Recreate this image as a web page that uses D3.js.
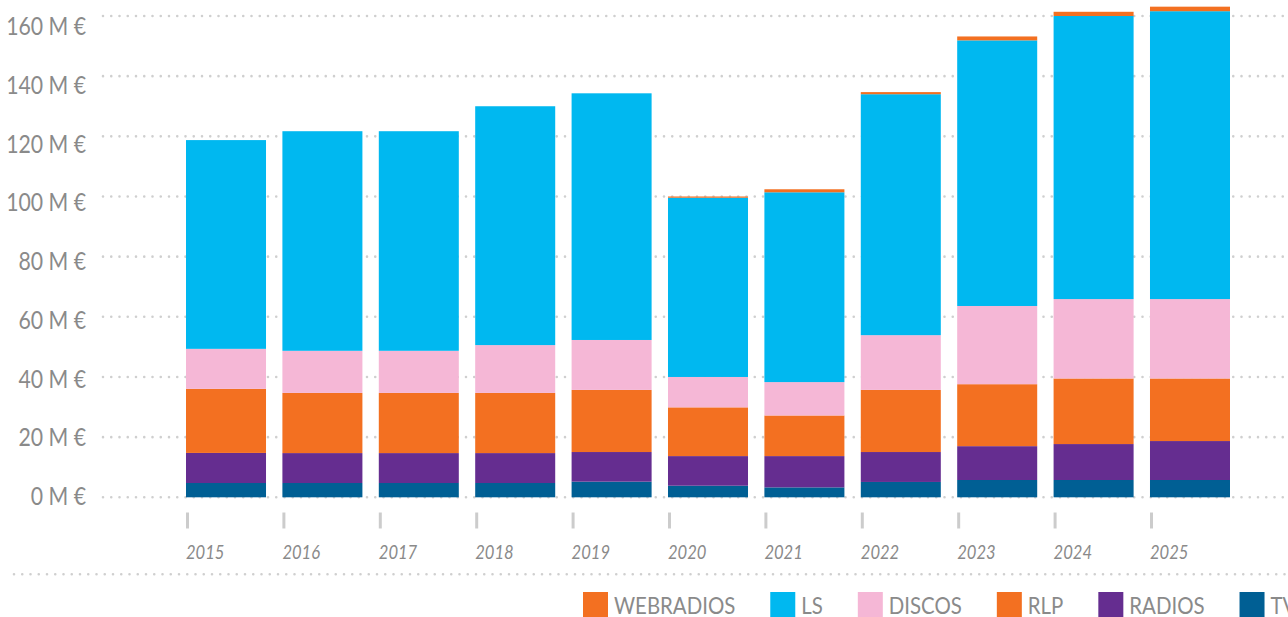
<!DOCTYPE html>
<html lang="en">
<head>
    <meta charset="UTF-8">
    <title>Stacked bars 2015-2025</title>
    <script src="https://d3js.org/d3.v7.min.js"></script>
    <style>
        body{
            margin: 0;
            background: #fff;
        }
        svg{
            display: block;
        }
        text{
            font-family: Lato, "Open Sans", sans-serif;
            fill: #8a8a8a;
        }
    </style>
</head>
<body>
<script>

    const width = 1288
    const height = 617
    // the original face is narrower than Lato, so text is squeezed a little
    const squeeze = 0.85

    // data, in M €
    const years = ["2015","2016","2017","2018","2019","2020","2021","2022","2023","2024","2025"]
    const tv        = [4.75, 4.75, 4.75, 4.75, 5.2, 3.85, 3.3, 5.1, 5.75, 5.75, 5.75]
    const radios    = [10.0, 9.95, 9.95, 9.95, 9.85, 9.85, 10.4, 9.95, 11.25, 11.95, 12.95]
    const rlp       = [21.3, 20.0, 20.0, 20.0, 20.65, 16.2, 13.5, 20.65, 20.6, 21.8, 20.8]
    const discos    = [13.3, 14.0, 14.0, 15.9, 16.6, 10.1, 11.1, 18.2, 26.0, 26.4, 26.4]
    const ls        = [69.4, 73.0, 73.0, 79.4, 82.0, 59.6, 63.1, 80.1, 88.3, 94.1, 95.7]
    const webradios = [0, 0, 0, 0, 0, 0.4, 1.0, 0.7, 1.3, 1.4, 1.5]
    const yTicks = [0, 20, 40, 60, 80, 100, 120, 140, 160]

    // stack order from bottom to top
    const seriesNames = ["TV","RADIOS","RLP","DISCOS","LS","WEBRADIOS"]
    const seriesValues = [tv, radios, rlp, discos, ls, webradios]
    const colors = {
        "TV": "#005f94",
        "RADIOS": "#652d90",
        "RLP": "#f37021",
        "DISCOS": "#f5b7d6",
        "LS": "#00b8f0",
        "WEBRADIOS": "#f37021"
    }
    // legend reads left to right from the top of the stack
    const legendNames = ["WEBRADIOS","LS","DISCOS","RLP","RADIOS","TV"]

    let table = years.map((y,i)=>{
        let row = {year: y}
        seriesNames.forEach((s,j)=> row[s] = seriesValues[j][i])
        return row
    })

    let svg = d3.select("body").append("svg")
                .attr("width", width)
                .attr("height", height)
                .attr("viewBox", `0 0 ${width} ${height}`);

    const x = d3.scaleBand().domain(years)
                .range([186, 1230])
                .paddingInner(0.17)
                .paddingOuter(0)

    const y = d3.scaleLinear().domain([0,160]).range([497.3, 16])
    // the value labels sit on a slightly tighter spacing than the grid
    const yLab = d3.scaleLinear().domain([0,160]).range([496, 26])

    function place(px, py){
        return `translate(${px},${py}) scale(${squeeze},1)`
    }

    // grid
    svg.append("g").selectAll("line")
        .data(yTicks)
        .enter()
        .append("line")
        .attr("x1", 103)
        .attr("x2", width + 5)
        .attr("y1", d=>y(d))
        .attr("y2", d=>y(d))
        .attr("stroke", "#cfcfcf")
        .attr("stroke-width", 2.6)
        .attr("stroke-linecap", "round")
        .attr("stroke-dasharray", "0 8.25")

    svg.append("g").selectAll("text")
        .data(yTicks)
        .enter()
        .append("text")
        .attr("transform", d=>place(86, yLab(d)))
        .attr("dy", "0.36em")
        .attr("text-anchor", "end")
        .style("font-size", "25px")
        .text(d=>`${d} M €`)

    // bars
    let stacked = d3.stack().keys(seriesNames)(table)

    svg.append("g").selectAll("g")
        .data(stacked)
        .enter()
        .append("g")
        .attr("fill", d=>colors[d.key])
        .selectAll("rect")
        .data(d=>d)
        .enter()
        .append("rect")
        .attr("x", d=>x(d.data.year))
        .attr("width", x.bandwidth())
        .attr("y", d=>y(d[1]))
        .attr("height", d=>Math.max(0, y(d[0]) - y(d[1])))

    // x axis: short ticks and italic years at the bar's left edge
    let gx = svg.append("g")
    gx.selectAll("line")
        .data(years)
        .enter()
        .append("line")
        .attr("x1", d=>x(d) + 1.5)
        .attr("x2", d=>x(d) + 1.5)
        .attr("y1", 512.5)
        .attr("y2", 528.5)
        .attr("stroke", "#cccccc")
        .attr("stroke-width", 3)
    gx.selectAll("text")
        .data(years)
        .enter()
        .append("text")
        .attr("transform", d=>place(x(d), 559))
        .style("font-size", "19.5px")
        .style("font-style", "italic")
        .text(d=>d)

    // separator above the legend
    svg.append("line")
        .attr("x1", 14)
        .attr("x2", width + 5)
        .attr("y1", 574.3)
        .attr("y2", 574.3)
        .attr("stroke", "#cfcfcf")
        .attr("stroke-width", 2.6)
        .attr("stroke-linecap", "round")
        .attr("stroke-dasharray", "0 8.25")

    // legend
    let gLegend = svg.append("g")
    let lx = 583
    legendNames.forEach(name=>{
        gLegend.append("rect")
            .attr("x", lx)
            .attr("y", 592)
            .attr("width", 25)
            .attr("height", 25)
            .attr("fill", colors[name])
        let t = gLegend.append("text")
            .attr("transform", place(lx + 31, 614))
            .style("font-size", "24px")
            .text(name)
        lx += 31 + t.node().getComputedTextLength() * squeeze + 35
    })

</script>
</body>
</html>
